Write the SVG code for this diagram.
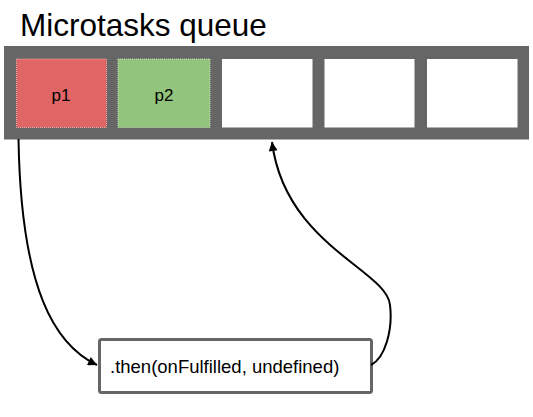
<svg xmlns="http://www.w3.org/2000/svg" width="533" height="417" viewBox="0 0 533 417">
  <style>
    text { font-family: "Liberation Sans", Arial, sans-serif; fill: #000; }
    .slot { fill: #ffffff; }
    .conn { fill: none; stroke: #000; stroke-width: 2; }
  </style>
  <defs>
    <marker id="arrow" viewBox="0 0 10 10" refX="10" refY="5" markerUnits="userSpaceOnUse" markerWidth="11" markerHeight="9" orient="auto">
      <path d="M0 0 L10 5 L0 10 Z" fill="#000"/>
    </marker>
  </defs>
  <rect width="533" height="417" fill="#ffffff"/>
  <text id="title" x="20" y="36" font-size="31.5">Microtasks queue</text>
  <g id="queue">
    <rect x="4" y="46" width="525" height="93.5" fill="#666666"/>
  </g>
  <g id="p1">
    <rect x="16.5" y="59" width="90" height="68.5" fill="#e06666" stroke="#f2a8a8" stroke-width="1" stroke-dasharray="1 1"/>
    <text x="61" y="101" font-size="17" text-anchor="middle">p1</text>
  </g>
  <g id="p2">
    <rect x="118" y="59" width="92" height="68.5" fill="#93c47d" stroke="#c6e2b8" stroke-width="1" stroke-dasharray="1 1"/>
    <text x="164" y="101" font-size="17" text-anchor="middle">p2</text>
  </g>
  <g id="slot3"><rect class="slot" x="222" y="59" width="90.5" height="68.5"/></g>
  <g id="slot4"><rect class="slot" x="324.5" y="59" width="90" height="68.5"/></g>
  <g id="slot5"><rect class="slot" x="427" y="59" width="90.5" height="68.5"/></g>
  <g id="then">
    <rect x="99.5" y="339.5" width="272" height="53" rx="2" fill="#ffffff" stroke="#666666" stroke-width="3"/>
    <text x="110" y="373" font-size="18.5">.then(onFulfilled, undefined)</text>
  </g>
  <g id="connectors">
    <path class="conn" d="M18.5 139 C 21 290, 55 345, 97 365" marker-end="url(#arrow)"/>
    <path class="conn" d="M371 365 C 385 358, 393 330, 390 305 C 387 270, 285 245, 272 142" marker-end="url(#arrow)"/>
  </g>
</svg>
